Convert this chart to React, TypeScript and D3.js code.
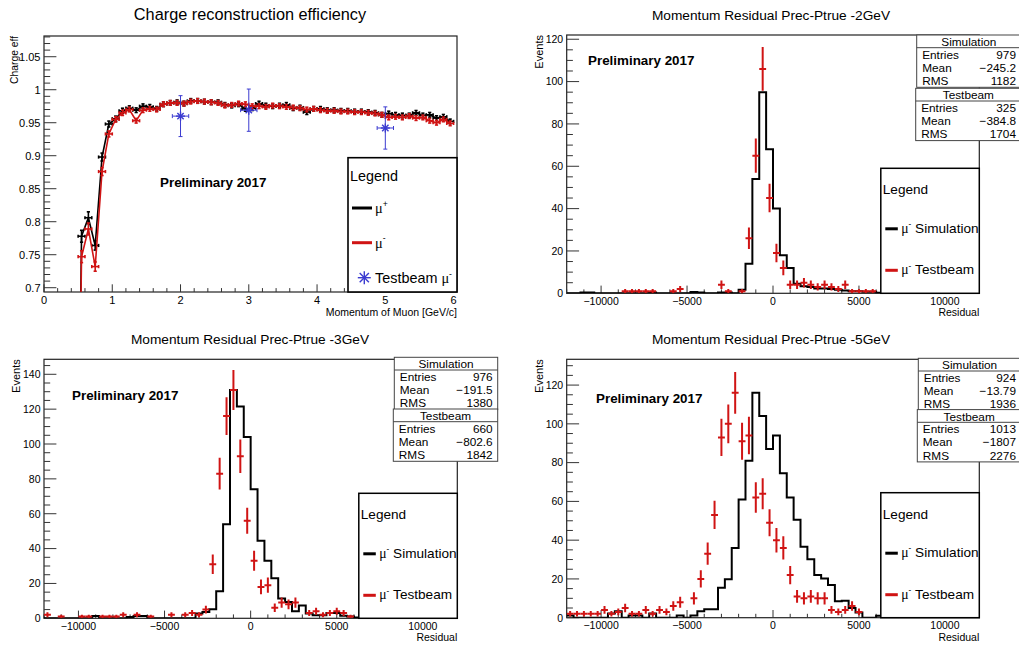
import * as d3 from 'd3'
import React from 'react'

const FONT = '"Liberation Sans", Arial, Helvetica, sans-serif'
const SERIF = '"Liberation Serif", "DejaVu Serif", serif'
const RED = '#d01414'
const BLUE = '#3b3bd0'
const INK = '#222'

// ---------- charge reconstruction efficiency (top left) ----------
const momentum = [0.45, 0.55, 0.65, 0.75, 0.85, 0.95, 1.05, 1.15, 1.25, 1.35, 1.45, 1.55, 1.65, 1.75, 1.85, 1.95,
  2.05, 2.15, 2.25, 2.35, 2.45, 2.55, 2.65, 2.75, 2.85, 2.95, 3.05, 3.15, 3.25, 3.35, 3.45, 3.55, 3.65, 3.75, 3.85, 3.95,
  4.05, 4.15, 4.25, 4.35, 4.45, 4.55, 4.65, 4.75, 4.85, 4.95, 5.05, 5.15, 5.25, 5.35, 5.45, 5.55, 5.65, 5.75, 5.85, 5.95]
const effPlus = [0, 0.778, 0.806, 0.764, 0.898, 0.948, 0.956, 0.968, 0.972, 0.969, 0.975, 0.974, 0.971, 0.978, 0.98, 0.981,
  0.979, 0.983, 0.983, 0.982, 0.981, 0.981, 0.977, 0.976, 0.978, 0.971, 0.972, 0.979, 0.976, 0.975, 0.976, 0.977, 0.972,
  0.973, 0.966, 0.971, 0.971, 0.969, 0.969, 0.968, 0.968, 0.967, 0.967, 0.966, 0.965, 0.962, 0.964, 0.962, 0.961, 0.961,
  0.965, 0.961, 0.962, 0.957, 0.959, 0.952]
const effMinus = [0, 0.747, 0.789, 0.732, 0.876, 0.933, 0.955, 0.965, 0.97, 0.953, 0.969, 0.971, 0.97, 0.978, 0.98, 0.98,
  0.979, 0.982, 0.983, 0.982, 0.981, 0.98, 0.976, 0.977, 0.979, 0.978, 0.975, 0.975, 0.974, 0.976, 0.975, 0.974, 0.973,
  0.972, 0.97, 0.971, 0.969, 0.968, 0.968, 0.967, 0.967, 0.966, 0.966, 0.965, 0.964, 0.962, 0.958, 0.959, 0.958, 0.96,
  0.957, 0.958, 0.953, 0.95, 0.955, 0.949]
const effErr = [0, 0.009, 0.009, 0.007, 0.006, 0.0045, 0.004, 0.004].concat(Array(48).fill(0.0035))
const tbMomentum = [2, 3, 5]
const tbEff = [0.96, 0.969, 0.942]
const tbEffErr = [0.031, 0.032, 0.032]
const tbMomErr = [0.12, 0.12, 0.12]

// ---------- momentum residual histograms ----------
const residualEdges = d3.range(-12000, 12001, 400)
const sim2 = [0, 0, 0.33, 0.33, 0, 0, 0, 0, 0, 0,
  0, 0, 0.33, 0, 0, 0, 0, 0, 0.66, 0.33,
  0, 0, 0.33, 0.33, 0, 1.66, 14, 54, 95, 68,
  40, 18, 12, 4.5, 3.3, 3, 2.3, 2.3, 2, 1.7,
  1.3, 1, 1, 0.7, 0.7, 0.3, 0, 0, 0, 0,
  0, 0, 0, 0, 0, 0, 0, 0, 0, 0]
const tb2 = [0, 0, 0, 0, 0, 0, 0, 0, 1, 1,
  1, 1, 1, 0, 0, 1, 2, 0, 0, 0,
  0, 0, 4, 1, 0, 1, 26, 65, 106, 45,
  19, 12, 4, 4, 5, 4, 3, 4, 3, 2,
  4, 1, 1, 1, 1, 0, 0, 0, 0, 0,
  0, 0, 0, 0, 0, 0, 0, 0, 0, 0]
const sim3 = [0, 0, 0, 0, 0, 0, 0, 1.35, 0, 0,
  0, 0, 0.68, 1.35, 1.35, 0, 0, 0, 0, 0,
  0, 0, 2.7, 3.6, 5.2, 15.5, 54, 131, 121.5, 104,
  74, 44.5, 33, 23, 11.3, 9.4, 4, 7.4, 2.7, 1.7,
  1.7, 3, 3, 1.4, 1, 0.5, 0, 0, 0, 0,
  0, 0, 0, 0, 0, 0, 0, 0, 0, 0]
const tb3 = [2, 0, 1, 0, 0, 1, 1, 0, 1, 1,
  1, 2, 0, 2, 0, 1, 0, 0, 2, 0,
  2, 3, 2, 5, 31, 83, 116, 131, 93, 56,
  33, 18, 19, 6, 9, 8, 9, 0, 3, 4,
  2, 3, 4, 3, 1, 0, 0, 0, 0, 0,
  0, 0, 0, 0, 0, 0, 0, 0, 0, 0]
const sim5 = [1.1, 0, 0, 0, 0, 0, 2.2, 3.3, 0, 1.1,
  1.1, 0, 2.2, 0, 0, 0, 1.1, 0, 1.1, 3.3,
  4.4, 4.4, 15.5, 19.8, 36, 61, 81, 116, 104, 87,
  94, 74.5, 62, 50.5, 36.6, 30.2, 22, 20.2, 16.9, 8.5,
  8.8, 5, 2.7, 0, 0, 1, 0, 0, 0, 0,
  0, 0, 0, 0, 0, 0, 0, 0, 0, 0]
const tb5 = [2, 2, 2, 2, 2, 4, 2, 3, 5, 2,
  2, 4, 2, 4, 3, 6, 8, 0, 10, 20,
  33, 53, 93, 100, 116, 91, 94, 62, 64, 49,
  40, 36, 22, 11, 10, 11, 10, 10, 4, 3,
  4, 6, 3, 0, 0, 0, 0, 0, 0, 0,
  0, 0, 0, 0, 0, 0, 0, 0, 0, 0]

const statLabels = ['Entries', 'Mean', 'RMS']
const simStats2 = ['979', '\u2212245.2', '1182']
const tbStats2 = ['325', '\u2212384.8', '1704']
const simStats3 = ['976', '\u2212191.5', '1380']
const tbStats3 = ['660', '\u2212802.6', '1842']
const simStats5 = ['924', '\u221213.79', '1936']
const tbStats5 = ['1013', '\u22121807', '2276']

type Panel = {
  key: string
  title: string
  x0: number; x1: number; y0: number; y1: number
  yMax: number
  sim: number[]; tb: number[]
  simStats: string[]; tbStats: string[]
  statsX: number; statsW: number; statsY: number; tbY: number
  prelim: [number, number]
  titleX: number; titleY: number
  evX: number
}

const panels: Panel[] = [
  { key: 'p2', title: 'Momentum Residual Prec-Ptrue -2GeV', x0: 566.7, x1: 979.3, y0: 35, y1: 293.3, yMax: 122,
    sim: sim2, tb: tb2, simStats: simStats2, tbStats: tbStats2, statsX: 916.7, statsW: 104.3, statsY: 35, tbY: 88.3,
    prelim: [588, 65], titleX: 771, titleY: 19.5, evX: 543 },
  { key: 'p3', title: 'Momentum Residual Prec-Ptrue -3GeV', x0: 44, x1: 457.3, y0: 359.3, y1: 618.3, yMax: 148.6,
    sim: sim3, tb: tb3, simStats: simStats3, tbStats: tbStats3, statsX: 394.3, statsW: 103.4, statsY: 357.3, tbY: 409,
    prelim: [72, 399.5], titleX: 250, titleY: 343.5, evX: 20 },
  { key: 'p5', title: 'Momentum Residual Prec-Ptrue -5GeV', x0: 566.7, x1: 979.3, y0: 359.3, y1: 617.7, yMax: 133.3,
    sim: sim5, tb: tb5, simStats: simStats5, tbStats: tbStats5, statsX: 918.3, statsW: 102.7, statsY: 358.3, tbY: 409.6,
    prelim: [596, 403], titleX: 771, titleY: 343.5, evX: 543 },
]

function Mu({ sign, size }: { sign: string; size: number }) {
  return (
    <>
      <tspan fontFamily={SERIF}>μ</tspan>
      <tspan dy={-size * 0.42} fontSize={size * 0.6}>{sign}</tspan>
      <tspan dy={size * 0.42}> </tspan>
    </>
  )
}

function StatsBox({ x, y, w, title, values }: { x: number; y: number; w: number; title: string; values: string[] }) {
  return (
    <g fontFamily={FONT} fontSize={11.8} fill="#000">
      <rect x={x} y={y} width={w} height={52.3} fill="#fff" stroke="#444" strokeWidth={1} />
      <line x1={x} x2={x + w} y1={y + 12.7} y2={y + 12.7} stroke="#444" strokeWidth={1} />
      <text x={x + w / 2} y={y + 11} textAnchor="middle">{title}</text>
      {statLabels.map((l, i) => (
        <g key={l}>
          <text x={x + 5.5} y={y + 23.5 + i * 13.3}>{l}</text>
          <text x={x + w - 5} y={y + 23.5 + i * 13.3} textAnchor="end">{values[i]}</text>
        </g>
      ))}
    </g>
  )
}

function HistPanel({ c }: { c: Panel }) {
  const x = d3.scaleLinear().domain([-12000, 12000]).range([c.x0, c.x1])
  const y = d3.scaleLinear().domain([0, c.yMax]).range([c.y1, c.y0])
  const steps: [number, number][] = []
  c.sim.forEach((v, i) => {
    steps.push([residualEdges[i], v], [residualEdges[i + 1], v])
  })
  const line = d3.line<[number, number]>().x(d => x(d[0])).y(d => y(d[1]))
  const xMajor = [-10000, -5000, 0, 5000, 10000]
  const xMinor = d3.range(-12000, 12001, 1000)
  const yMajor = d3.range(0, c.yMax, 20)
  const yMinor = d3.range(0, c.yMax, 5)
  const fmt = d3.format('d')
  const id = `clip-${c.key}`
  const lx = c.x1 - 98.5
  const ly = c.y1 - 125
  return (
    <g>
      <defs>
        <clipPath id={id}>
          <rect x={c.x0} y={c.y0} width={c.x1 - c.x0} height={c.y1 - c.y0} />
        </clipPath>
      </defs>
      <text x={c.titleX} y={c.titleY} textAnchor="middle" fontFamily={FONT} fontSize={13.7}>{c.title}</text>
      <rect x={c.x0} y={c.y0} width={c.x1 - c.x0} height={c.y1 - c.y0} fill="#fff" stroke={INK} strokeWidth={1.2} />
      <g stroke="#333" strokeWidth={1}>
        {xMinor.map(v => (
          <line key={'xm' + v} x1={x(v)} x2={x(v)} y1={c.y1} y2={c.y1 - (xMajor.includes(v) ? 7.7 : 3.9)} />
        ))}
        {yMinor.map(v => (
          <line key={'ym' + v} x1={c.x0} x2={c.x0 + (v % 20 === 0 ? 12.4 : 6.2)} y1={y(v)} y2={y(v)} />
        ))}
      </g>
      <g clipPath={`url(#${id})`}>
        <path d={line(steps) ?? ''} fill="none" stroke="#000" strokeWidth={2} strokeLinejoin="miter" />
        {c.tb.map((v, i) =>
          v > 0 ? (
            <g key={i} stroke={RED} strokeWidth={2}>
              <line x1={x(residualEdges[i])} x2={x(residualEdges[i + 1])} y1={y(v)} y2={y(v)} />
              <line x1={x(residualEdges[i] + 200)} x2={x(residualEdges[i] + 200)} y1={y(v + Math.sqrt(v))} y2={y(v - Math.sqrt(v))} />
            </g>
          ) : null
        )}
      </g>
      <g fontFamily={FONT} fontSize={10.5} fill="#000">
        {xMajor.map(v => (
          <text key={v} x={x(v)} y={c.y1 + 11.5} textAnchor="middle">{fmt(v)}</text>
        ))}
        {yMajor.map(v => (
          <text key={v} x={c.x0 - 3.5} y={y(v) + 3.8} textAnchor="end">{v}</text>
        ))}
        <text x={c.x1} y={c.y1 + 23} textAnchor="end">Residual</text>
        <text transform={`translate(${c.evX},${c.y0}) rotate(-90)`} textAnchor="end" fontSize={11}>Events</text>
      </g>
      <text x={c.prelim[0]} y={c.prelim[1]} fontFamily={FONT} fontWeight="bold" fontSize={13.4}>Preliminary 2017</text>
      <StatsBox x={c.statsX} y={c.statsY} w={c.statsW} title="Simulation" values={c.simStats} />
      <StatsBox x={c.statsX - 1} y={c.tbY} w={c.statsW + 1} title="Testbeam" values={c.tbStats} />
      <g fontFamily={FONT} fontSize={13.6}>
        <rect x={lx} y={ly} width={c.x1 - lx} height={c.y1 - ly} fill="#fff" stroke="#000" strokeWidth={1.5} />
        <text x={lx + 2} y={ly + 26}>Legend</text>
        <line x1={lx + 4.5} x2={lx + 17} y1={ly + 60.5} y2={ly + 60.5} stroke="#000" strokeWidth={3} />
        <text x={lx + 20.5} y={ly + 64.5}><Mu sign="-" size={13.6} />Simulation</text>
        <line x1={lx + 4.5} x2={lx + 17} y1={ly + 102} y2={ly + 102} stroke={RED} strokeWidth={3} />
        <text x={lx + 20.5} y={ly + 106}><Mu sign="-" size={13.6} />Testbeam</text>
      </g>
    </g>
  )
}

function Star({ cx, cy, r, color }: { cx: number; cy: number; r: number; color: string }) {
  const a = r * 0.707
  return (
    <g stroke={color} strokeWidth={1.4}>
      <line x1={cx - r} x2={cx + r} y1={cy} y2={cy} />
      <line x1={cx} x2={cx} y1={cy - r} y2={cy + r} />
      <line x1={cx - a} x2={cx + a} y1={cy - a} y2={cy + a} />
      <line x1={cx - a} x2={cx + a} y1={cy + a} y2={cy - a} />
    </g>
  )
}

function EffPanel() {
  const x0 = 44, x1 = 457, y0 = 36, y1 = 292
  const x = d3.scaleLinear().domain([0, 6.05]).range([x0, x1])
  const y = d3.scaleLinear().domain([0.6935, 1.0814]).range([y1, y0])
  const line = d3.line<number>().x((_, i) => x(momentum[i])).y(d => y(d))
  const xMinor = d3.range(0, 6.01, 0.2)
  const yMinor = d3.range(70, 108.1, 1).map(v => v / 100)
  const yMajor = [0.7, 0.75, 0.8, 0.85, 0.9, 0.95, 1, 1.05]
  const marks = (vals: number[], color: string) =>
    vals.map((v, i) => {
      if (v < 0.69) return null
      const cx = x(momentum[i])
      const cy = y(v)
      const xa = x(momentum[i] - 0.05)
      const xb = x(momentum[i] + 0.05)
      const yt = y(v + effErr[i])
      const yb = y(v - effErr[i])
      return (
        <g key={i} stroke={color} strokeWidth={1.6}>
          <line x1={xa} x2={xb} y1={cy} y2={cy} />
          <line x1={cx} x2={cx} y1={yt} y2={yb} />
          <line x1={xa} x2={xa} y1={cy - 1.6} y2={cy + 1.6} />
          <line x1={xb} x2={xb} y1={cy - 1.6} y2={cy + 1.6} />
          <line x1={cx - 1.6} x2={cx + 1.6} y1={yt} y2={yt} />
          <line x1={cx - 1.6} x2={cx + 1.6} y1={yb} y2={yb} />
        </g>
      )
    })
  return (
    <g>
      <defs>
        <clipPath id="clip-eff">
          <rect x={x0} y={y0} width={x1 - x0} height={y1 - y0} />
        </clipPath>
      </defs>
      <text x={250} y={20} textAnchor="middle" fontFamily={FONT} fontSize={16.3}>Charge reconstruction efficiency</text>
      <rect x={x0} y={y0} width={x1 - x0} height={y1 - y0} fill="#fff" stroke={INK} strokeWidth={1.2} />
      <g stroke="#333" strokeWidth={1}>
        {xMinor.map((v, i) => (
          <line key={'x' + i} x1={x(v)} x2={x(v)} y1={y1} y2={y1 - (i % 5 === 0 ? 7.7 : 3.9)} />
        ))}
        {yMinor.map((v, i) => (
          <line key={'y' + i} x1={x0} x2={x0 + (i % 5 === 0 ? 12.4 : 6.2)} y1={y(v)} y2={y(v)} />
        ))}
      </g>
      <g clipPath="url(#clip-eff)">
        <path d={line(effPlus) ?? ''} fill="none" stroke="#000" strokeWidth={1.6} />
        {marks(effPlus, '#000')}
        <path d={line(effMinus) ?? ''} fill="none" stroke={RED} strokeWidth={1.6} />
        {marks(effMinus, RED)}
        {tbMomentum.map((m, i) => (
          <g key={i} stroke={BLUE} strokeWidth={1}>
            <line x1={x(m - tbMomErr[i])} x2={x(m + tbMomErr[i])} y1={y(tbEff[i])} y2={y(tbEff[i])} />
            <line x1={x(m)} x2={x(m)} y1={y(tbEff[i] + tbEffErr[i])} y2={y(tbEff[i] - tbEffErr[i])} />
            <line x1={x(m - tbMomErr[i])} x2={x(m - tbMomErr[i])} y1={y(tbEff[i]) - 2} y2={y(tbEff[i]) + 2} />
            <line x1={x(m + tbMomErr[i])} x2={x(m + tbMomErr[i])} y1={y(tbEff[i]) - 2} y2={y(tbEff[i]) + 2} />
            <line x1={x(m) - 2} x2={x(m) + 2} y1={y(tbEff[i] + tbEffErr[i])} y2={y(tbEff[i] + tbEffErr[i])} />
            <line x1={x(m) - 2} x2={x(m) + 2} y1={y(tbEff[i] - tbEffErr[i])} y2={y(tbEff[i] - tbEffErr[i])} />
            <Star cx={x(m)} cy={y(tbEff[i])} r={4.5} color={BLUE} />
          </g>
        ))}
      </g>
      <g fontFamily={FONT} fontSize={11} fill="#000">
        {d3.range(0, 7).map(v => (
          <text key={v} x={x(v)} y={y1 + 11.5} textAnchor="middle">{v}</text>
        ))}
        {yMajor.map(v => (
          <text key={v} x={x0 - 3.5} y={y(v) + 3.8} textAnchor="end">{String(v)}</text>
        ))}
        <text x={x1} y={316} textAnchor="end" fontSize={10.5}>Momentum of Muon [GeV/c]</text>
        <text transform={`translate(18,${y0}) rotate(-90)`} textAnchor="end" fontSize={10.3}>Charge eff</text>
      </g>
      <text x={160} y={186.5} fontFamily={FONT} fontWeight="bold" fontSize={13.4}>Preliminary 2017</text>
      <g fontFamily={FONT} fontSize={14.4}>
        <rect x={348} y={157.7} width={x1 - 348} height={y1 - 157.7} fill="#fff" stroke="#000" strokeWidth={1.6} />
        <text x={350} y={181}>Legend</text>
        <line x1={352} x2={372} y1={208} y2={208} stroke="#000" strokeWidth={3} />
        <text x={375} y={213}><Mu sign="+" size={14.4} /></text>
        <line x1={352} x2={372} y1={242.7} y2={242.7} stroke={RED} strokeWidth={3} />
        <text x={375} y={247.5}><Mu sign="-" size={14.4} /></text>
        <Star cx={364.3} cy={277.7} r={6.5} color={BLUE} />
        <text x={375} y={283}>Testbeam <Mu sign="-" size={14.4} /></text>
      </g>
    </g>
  )
}

export default function App() {
  return (
    <svg width={1019} height={646} style={{ position: 'absolute', left: 0, top: 0, background: '#fff' }}>
      <rect width={1019} height={646} fill="#fff" />
      <EffPanel />
      {panels.map(p => (
        <HistPanel key={p.key} c={p} />
      ))}
    </svg>
  )
}
